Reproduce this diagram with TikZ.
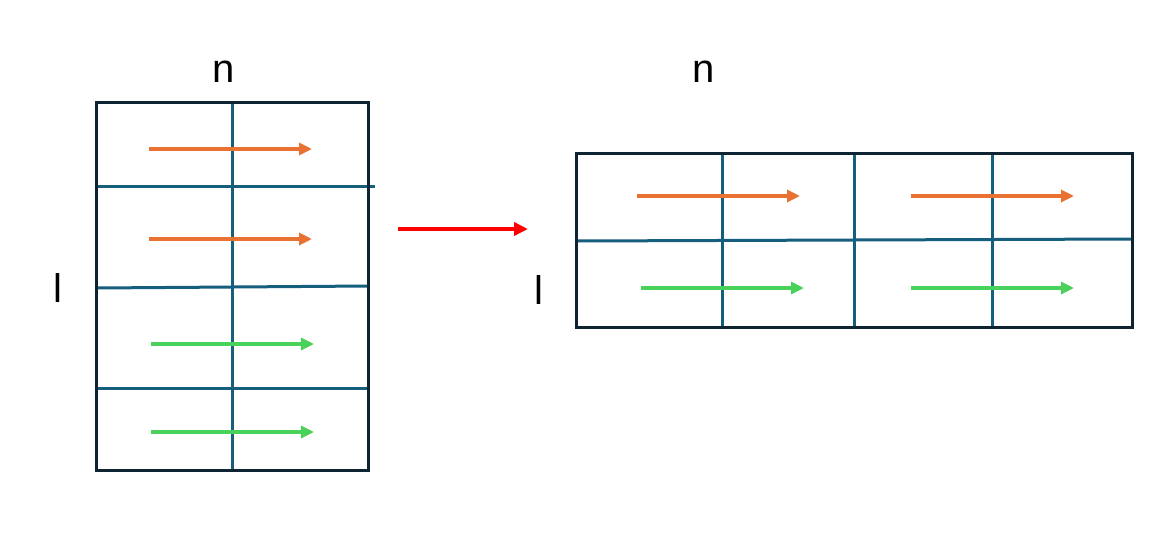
\documentclass[tikz,border=0pt]{standalone}
\usepackage{fontspec}
\setmainfont{Liberation Sans}
\usetikzlibrary{arrows.meta}

\definecolor{gridframe}{RGB}{14,36,50}
\definecolor{gridline}{RGB}{21,94,126}
\definecolor{roworange}{RGB}{233,113,50}
\definecolor{rowgreen}{RGB}{72,210,90}

\begin{document}
\begin{tikzpicture}[x=1pt,y=-1pt,
        frame/.style={line width=3.2pt,draw=gridframe},
        cell/.style={line width=3pt,draw=gridline},
        rowarrow/.style={line width=3.2pt,-{Triangle[length=13pt,width=12pt]}},
        dimlabel/.style={font=\fontsize{40}{44}\selectfont,inner sep=0pt}]
        \useasboundingbox (0,0) rectangle (1162,555);

        \def\lx{96.5}   \def\rx{368.5}              % left grid, left and right edge
        \def\ty{102.5}  \def\by{470.5}              % left grid, top and bottom edge

        % Draw the left (tall) grid: four rows, two columns
        \draw[cell] (232.5,\ty) -- (232.5,\by);
        \draw[cell] (\lx,186.5) -- (375,186.5);
        \draw[cell] (\lx,288) -- (\rx,286);
        \draw[cell] (\lx,388.5) -- (\rx,388.5);
        \draw[frame] (\lx,\ty) rectangle (\rx,\by);

        % One arrow per row of the left grid
        \draw[rowarrow,roworange] (149,149) -- (312,149);
        \draw[rowarrow,roworange] (149,239) -- (312,239);
        \draw[rowarrow,rowgreen]  (151,344) -- (314,344);
        \draw[rowarrow,rowgreen]  (151,432) -- (314,432);

        \node[dimlabel] (nleft) at (224,72) {n};
        \node[dimlabel] (lleft) at (58,288) {l};

        % Red arrow from the left grid to the right grid
        \coordinate (from) at (398,229);
        \coordinate (to)   at (528,229);
        \draw[line width=3.6pt,red,-{Triangle[length=14pt,width=13pt]}] (from) -- (to);

        % Draw the right (wide) grid: two rows, four columns
        \def\Lx{576.5}  \def\Rx{1132.5}             % right grid, left and right edge
        \def\Ty{153.5}  \def\By{327.5}              % right grid, top and bottom edge
        \draw[cell] (722.5,\Ty) -- (722.5,\By);
        \draw[cell] (854.5,\Ty) -- (854.5,\By);
        \draw[cell] (992.5,\Ty) -- (992.5,\By);
        \draw[cell] (\Lx,241) -- (\Rx,239);
        \draw[frame] (\Lx,\Ty) rectangle (\Rx,\By);

        % Two arrows per row of the right grid
        \draw[rowarrow,roworange] (637,196) -- (800,196);
        \draw[rowarrow,roworange] (911,196) -- (1074,196);
        \draw[rowarrow,rowgreen]  (641,288) -- (804,288);
        \draw[rowarrow,rowgreen]  (911,288) -- (1074,288);

        \node[dimlabel] (nright) at (704,72) {n};
        \node[dimlabel] (lright) at (539,290) {l};
    \end{tikzpicture}
\end{document}
